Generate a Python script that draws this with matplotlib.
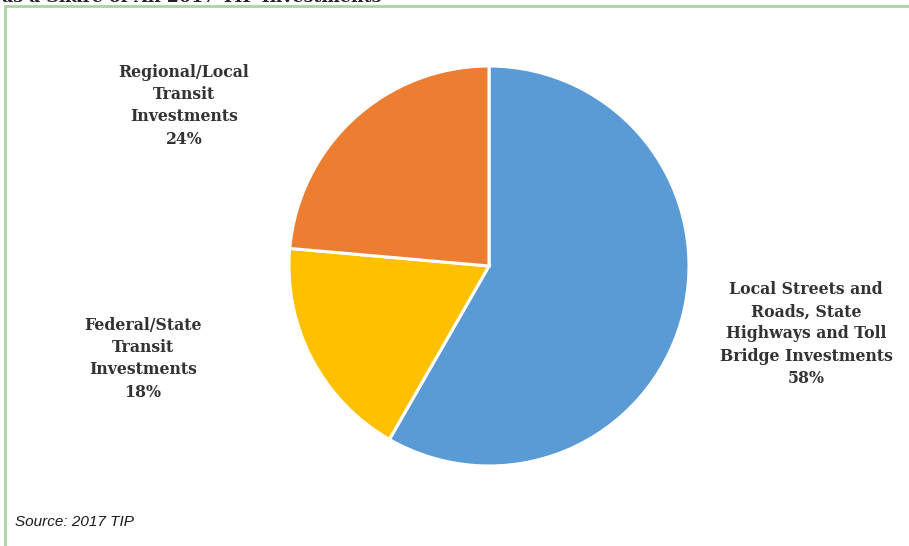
import matplotlib
matplotlib.use("Agg")
import matplotlib.pyplot as plt
from matplotlib.lines import Line2D

# Data
categories = [
    "Local Streets and\nRoads, State\nHighways and Toll\nBridge Investments",
    "Federal/State\nTransit\nInvestments",
    "Regional/Local\nTransit\nInvestments",
]
shares = [58.3, 18.1, 23.6]
colors = ["#5B9BD5", "#FFC000", "#ED7D31"]
title_text = "as a Share of All 2017 TIP Investments"
source_text = "Source: 2017 TIP"

W, H = 909, 546
fig = plt.figure(figsize=(W / 100, H / 100), dpi=100)
fig.patch.set_facecolor("white")

def fx(px):
    return px / W

def fy(py):
    return 1 - py / H

# pie axes: circle centre (489,266), radius 200 px
ax = fig.add_axes([fx(289), fy(466), 400 / W, 400 / H])
ax.pie(shares, colors=colors, startangle=90, counterclock=False,
       wedgeprops=dict(edgecolor="white", linewidth=2.2))
ax.set_xlim(-1, 1)
ax.set_ylim(-1, 1)
ax.set_aspect("equal")
ax.axis("off")

label_font = dict(family=["DejaVu Serif"], fontweight="bold", fontsize=11.3,
                  color="#333333", ha="center", va="top", linespacing=1.4)
label_pos = [(806, 281), (143, 317), (184, 64)]
for cat, val, (px, py) in zip(categories, shares, label_pos):
    fig.text(fx(px), fy(py), f"{cat}\n{round(val)}%", **label_font)

# source
fig.text(fx(15), fy(522), source_text, family=["Liberation Sans"], style="italic",
         fontsize=11, color="#1a1a1a", ha="left", va="center")

# partially visible title at top
fig.text(fx(2), fy(2), title_text, family=["DejaVu Serif"], fontweight="bold",
         fontsize=12.5, color="#222222", ha="left", va="baseline")

# green frame (left and top)
green = "#A8D5A0"
fig.add_artist(Line2D([fx(5), fx(5)], [fy(6), fy(546)], color=green, lw=2,
                      transform=fig.transFigure))
fig.add_artist(Line2D([fx(5), fx(908)], [fy(6), fy(6)], color=green, lw=2,
                      transform=fig.transFigure))

fig.savefig("out.png", dpi=100)
